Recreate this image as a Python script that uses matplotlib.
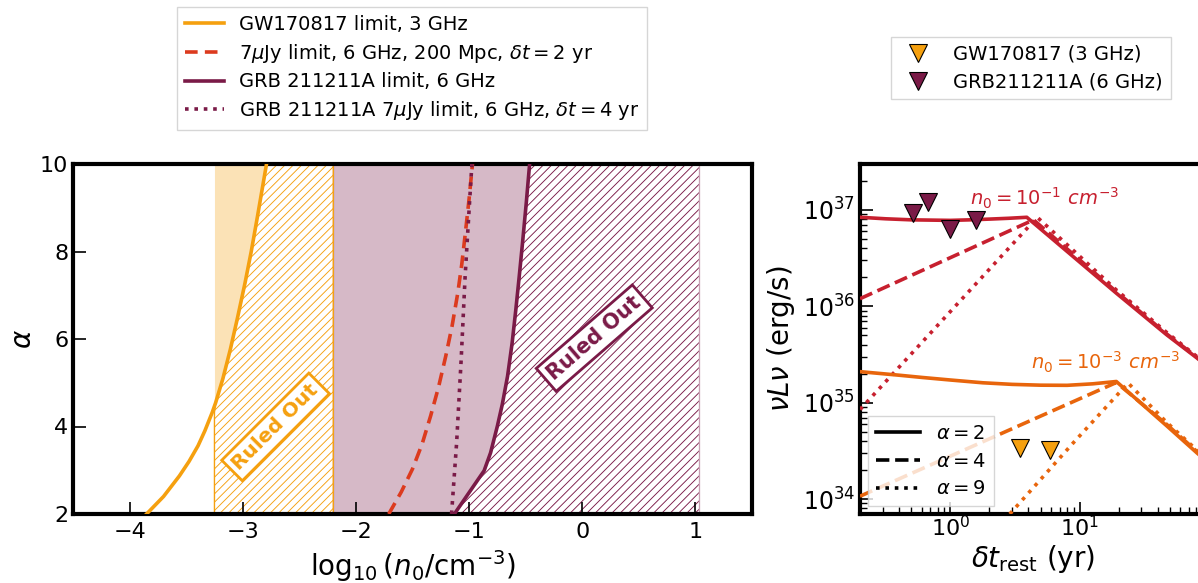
import numpy as np
import matplotlib
matplotlib.use('Agg')
import matplotlib.pyplot as plt
from matplotlib.lines import Line2D

# ---------------- Left panel data: log10(n0) vs alpha ----------------
gw_alpha = [2.0, 2.4, 2.87, 3.2, 3.56, 3.9, 4.32, 4.54, 5.1, 5.76, 6.5, 7.28, 8.0, 8.8, 9.4, 10.0]
gw_logn = [-3.85, -3.70, -3.56, -3.475, -3.395, -3.335, -3.27, -3.24, -3.175, -3.11,
           -3.045, -2.98, -2.925, -2.87, -2.83, -2.79]

grb_alpha = [2.0, 2.99, 3.4, 4.01, 4.5, 5.15, 5.9, 6.67, 7.4, 8.19, 9.1, 10.0]
grb_logn = [-1.13, -0.867, -0.81, -0.75, -0.707, -0.66, -0.62, -0.587, -0.558, -0.528,
            -0.495, -0.465]

dash7_alpha = [2.0, 2.5, 3.03, 3.6, 4.24, 4.9, 5.61, 6.3, 7.05, 7.7, 8.42, 9.2, 10.0]
dash7_logn = [-1.71, -1.60, -1.50, -1.415, -1.34, -1.27, -1.206, -1.15, -1.10, -1.065,
              -1.033, -1.0, -0.97]

grb7_alpha = [2.0, 3.63, 5.53, 7.43, 8.95, 10.0]
grb7_logn = [-1.155, -1.11, -1.07, -1.035, -1.0, -0.975]

gw_region = [-3.25, -2.2]      # GW170817 excluded band edges
grb_region = [-2.2, 1.03]      # GRB 211211A band edges

# ---------------- Right panel data: light curves ----------------
t_red_solid = [0.2, 0.316, 0.5, 1.0, 1.41, 2.0, 2.82, 3.9, 19.2, 46.8, 81.0, 95.0]
L_red_solid = [8.4e36, 8.1e36, 7.9e36, 7.8e36, 7.9e36, 8.04e36, 8.2e36, 8.4e36,
               1.37e36, 5.1e35, 2.9e35, 2.44e35]
t_red_dash = [0.2, 4.4, 19.2, 46.8, 81.0, 95.0]
L_red_dash = [1.2e36, 7.9e36, 1.42e36, 5.2e35, 2.95e35, 2.5e35]
t_red_dot = [0.2, 4.7, 19.2, 46.8, 81.0, 95.0]
L_red_dot = [8.5e34, 8.4e36, 1.48e36, 5.4e35, 3.0e35, 2.55e35]

t_or_solid = [0.2, 0.4, 0.6, 1.0, 1.78, 3.0, 5.0, 8.0, 12.6, 19.2, 46.8, 81.0, 95.0]
L_or_solid = [2.1e35, 1.93e35, 1.83e35, 1.72e35, 1.61e35, 1.55e35, 1.52e35, 1.515e35,
              1.57e35, 1.66e35, 5.8e34, 3.0e34, 2.5e34]
t_or_dash = [0.2, 19.2, 46.8, 81.0, 95.0]
L_or_dash = [1.07e34, 1.62e35, 6.0e34, 3.1e34, 2.6e34]
t_or_dot = [2.88, 8.87, 23.7, 46.8, 81.0, 95.0]
L_or_dot = [7.0e33, 3.8e34, 1.6e35, 6.3e34, 3.2e34, 2.7e34]

gw_obs_t = [3.44, 5.86]
gw_obs_L = [3.42e34, 3.24e34]
grb_obs_t = [0.514, 0.671, 0.99, 1.59]
grb_obs_L = [9.25e36, 1.2e37, 6.35e36, 7.87e36]

# ---------------- styling ----------------
C_GW = '#f5a00f'
C_GRB = '#7a1a47'
C_RED7 = '#dc3a1e'
C_RED = '#c7202f'
C_OR = '#e8650c'

DASH_L = (0, (3.5, 2))
DOT_L = (0, (1, 1.6))
DASH_R = (0, (3.7, 1.6))
DOT_R = (0, (1, 1.6))

plt.rcParams.update({
    'font.family': 'DejaVu Sans',
    'xtick.direction': 'in', 'ytick.direction': 'in',
    'xtick.major.size': 9, 'ytick.major.size': 9,
    'xtick.minor.size': 5, 'ytick.minor.size': 5,
    'xtick.major.width': 1.2, 'ytick.major.width': 1.2,
    'xtick.minor.width': 1.0, 'ytick.minor.width': 1.0,
    'xtick.labelsize': 16, 'ytick.labelsize': 16,
    'axes.linewidth': 3,
    'hatch.linewidth': 0.65,
})

fig = plt.figure(figsize=(11.98, 5.83), dpi=100)
axL = fig.add_axes([73/1198, 69/583, 679/1198, 350/583])
xmax_R = 95.0
axR_w = 129.3 * np.log10(xmax_R / 0.2)
axR = fig.add_axes([860/1198, 69/583, axR_w/1198, 350/583])

# ----- Left panel -----
gw_a = np.array(gw_alpha); gw_n = np.array(gw_logn)
axL.fill_betweenx(gw_a, gw_region[0], gw_n, where=gw_n >= gw_region[0],
                  interpolate=True, color=C_GW, alpha=0.3, lw=0, zorder=1)
axL.fill_betweenx(gw_a, np.maximum(gw_n, gw_region[0]), gw_region[1],
                  facecolor='none', edgecolor=C_GW, hatch='////', lw=1.0, zorder=1)

grb_a = np.array(grb_alpha); grb_n = np.array(grb_logn)
axL.axvspan(grb_region[0], grb_region[1], color=C_GRB, alpha=0.3, lw=1, zorder=0.5)
axL.fill_betweenx(grb_a, grb_n, grb_region[1], facecolor='white',
                  edgecolor=C_GRB, hatch='////', lw=0, zorder=1)

axL.plot(gw_logn, gw_alpha, color=C_GW, lw=2.6, zorder=3)
axL.plot(dash7_logn, dash7_alpha, color=C_RED7, lw=2.6, ls=DASH_L, zorder=3)
axL.plot(grb_logn, grb_alpha, color=C_GRB, lw=2.6, zorder=3)
axL.plot(grb7_logn, grb7_alpha, color=C_GRB, lw=2.6, ls=DOT_L, zorder=3)

axL.text(-2.71, 3.99, 'Ruled Out', color=C_GW, fontsize=14.5, fontweight='bold',
         rotation=45, ha='center', va='center', rotation_mode='anchor', zorder=4,
         bbox=dict(boxstyle='square,pad=0.25', facecolor='white', edgecolor=C_GW, lw=2))
axL.text(0.106, 6.02, 'Ruled Out', color=C_GRB, fontsize=15, fontweight='bold',
         rotation=41, ha='center', va='center', rotation_mode='anchor', zorder=4,
         bbox=dict(boxstyle='square,pad=0.25', facecolor='white', edgecolor=C_GRB, lw=2))

axL.set_xlim(-4.5, 1.5)
axL.set_ylim(2, 10)
axL.set_xticks([-4, -3, -2, -1, 0, 1])
axL.set_yticks([2, 4, 6, 8, 10])
axL.tick_params(axis='x', pad=6)
axL.set_xlabel(r'$\log_{10}(n_0/{\rm cm}^{-3})$', fontsize=20)
axL.set_ylabel(r'$\alpha$', fontsize=20, labelpad=2)

# ----- Right panel -----
lw = 2.6
axR.plot(t_red_solid, L_red_solid, color=C_RED, lw=lw, zorder=3)
axR.plot(t_red_dash, L_red_dash, color=C_RED, lw=lw, ls=DASH_R, zorder=3)
axR.plot(t_red_dot, L_red_dot, color=C_RED, lw=lw, ls=DOT_R, zorder=3)
axR.plot(t_or_solid, L_or_solid, color=C_OR, lw=lw, zorder=3)
axR.plot(t_or_dash, L_or_dash, color=C_OR, lw=lw, ls=DASH_R, zorder=3)
axR.plot(t_or_dot, L_or_dot, color=C_OR, lw=lw, ls=DOT_R, zorder=3)

axR.plot(gw_obs_t, gw_obs_L, 'v', color=C_GW, mec='black', mew=0.8, ms=13, zorder=5)
axR.plot(grb_obs_t, grb_obs_L, 'v', color=C_GRB, mec='black', mew=0.8, ms=13, zorder=5)

axR.text(1.41, 1.12e37, r'$n_0 = 10^{-1}\ cm^{-3}$', color=C_RED, fontsize=14)
axR.text(4.23, 2.19e35, r'$n_0 = 10^{-3}\ cm^{-3}$', color=C_OR, fontsize=14)

axR.set_xscale('log')
axR.set_yscale('log')
axR.set_xlim(0.2, xmax_R)
axR.set_ylim(7e33, 3e37)
axR.tick_params(axis='y', which='major', labelsize=17)
axR.tick_params(axis='x', which='major', labelsize=16, pad=1)
axR.set_xlabel(r'$\delta t_{\rm rest}$ (yr)', fontsize=20, labelpad=2)
axR.set_ylabel(r'$\nu L \nu$ (erg/s)', fontsize=20)

alpha_handles = [Line2D([], [], color='black', lw=2.6, ls='-'),
                 Line2D([], [], color='black', lw=2.6, ls=DASH_R),
                 Line2D([], [], color='black', lw=2.6, ls=DOT_R)]
axR.legend(alpha_handles, [r'$\alpha = 2$', r'$\alpha = 4$', r'$\alpha = 9$'],
           loc='lower left', fontsize=14, handlelength=2.3, labelspacing=0.45,
           borderaxespad=0.4, fancybox=False)

# ----- Figure legends -----
lim_handles = [Line2D([], [], color=C_GW, lw=2.6),
               Line2D([], [], color=C_RED7, lw=2.6, ls=DASH_L),
               Line2D([], [], color=C_GRB, lw=2.6),
               Line2D([], [], color=C_GRB, lw=2.6, ls=DOT_L)]
lim_labels = ['GW170817 limit, 3 GHz',
              r'7$\mu$Jy limit, 6 GHz, 200 Mpc, $\delta t = 2$ yr',
              'GRB 211211A limit, 6 GHz',
              r'GRB 211211A 7$\mu$Jy limit, 6 GHz, $\delta t = 4$ yr']
fig.legend(lim_handles, lim_labels, loc='upper left',
           bbox_to_anchor=(177/1198, 1 - 7/583), fontsize=14,
           labelspacing=0.4, fancybox=False, borderaxespad=0)

obs_handles = [Line2D([], [], ls='none', marker='v', color=C_GW, mec='black', mew=0.8, ms=13),
               Line2D([], [], ls='none', marker='v', color=C_GRB, mec='black', mew=0.8, ms=13)]
fig.legend(obs_handles, ['GW170817 (3 GHz)', 'GRB211211A (6 GHz)'], loc='upper left',
           bbox_to_anchor=(891/1198, 1 - 37/583), fontsize=14,
           labelspacing=0.45, fancybox=False, borderaxespad=0)

fig.savefig('out.png', dpi=100)
